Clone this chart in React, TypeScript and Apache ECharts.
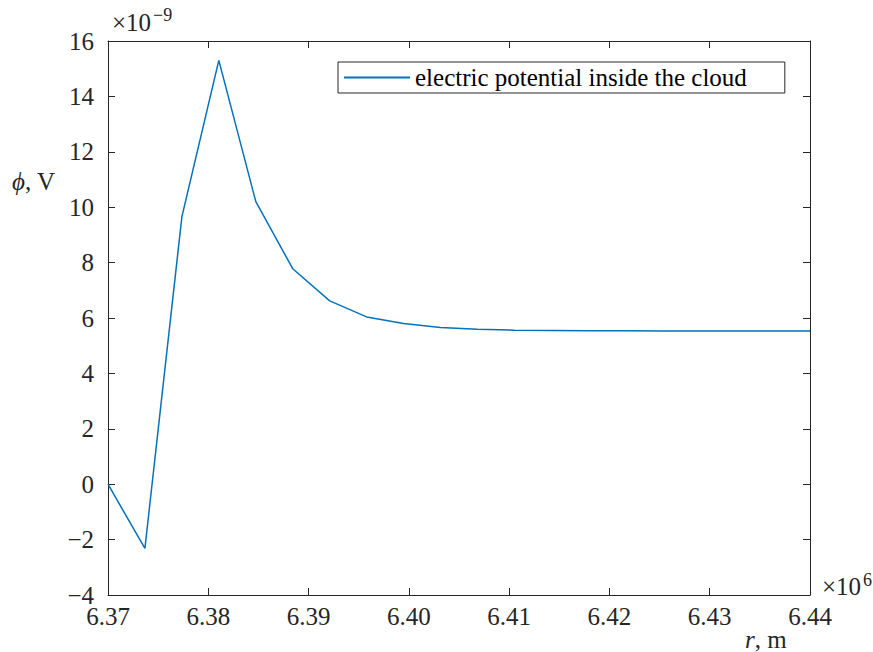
import React, { useEffect, useRef } from "react";
import * as echarts from "echarts";

// radius r in units of 1e6 m
const radius: number[] = [
  6.37, 6.37368, 6.37737, 6.38105, 6.38474, 6.38842, 6.39211, 6.39579,
  6.39947, 6.40316, 6.40684, 6.41053, 6.41421, 6.41789, 6.42158, 6.42526,
  6.42895, 6.43263, 6.43632, 6.44,
];
// electric potential in units of 1e-9 V
const potential: number[] = [
  0, -2.32, 9.66, 15.3, 10.2, 7.78, 6.62, 6.04, 5.8, 5.66, 5.59, 5.56, 5.55,
  5.54, 5.54, 5.53, 5.53, 5.53, 5.53, 5.53,
];
const xTicks: number[] = [6.37, 6.44, 0.01];
const yTicks: number[] = [-4, 16, 2];
const seriesName = "electric potential inside the cloud";

const FONT = "Liberation Serif";
const AX = "#262626";
const FS = 25;

const big = { fontFamily: FONT, fontSize: FS, color: AX, fill: AX };
const bigIt = { fontFamily: FONT, fontSize: FS, fontStyle: "italic", color: AX, fill: AX };
const small = { fontFamily: FONT, fontSize: 18, color: AX, fill: AX };

export default function App() {
  const ref = useRef<HTMLDivElement>(null);
  useEffect(() => {
    if (!ref.current) return;
    const chart = echarts.init(ref.current, null, { renderer: "svg" });
    const data = radius.map((r, i) => [r, potential[i]]);
    const axisCommon = {
      axisLine: { show: true, onZero: false, lineStyle: { color: AX, width: 1 } },
      axisTick: { show: true, inside: true, length: 7, lineStyle: { color: AX, width: 1 } },
      splitLine: { show: false },
    };
    chart.setOption({
      animation: false,
      backgroundColor: "#ffffff",
      textStyle: { fontFamily: FONT },
      grid: { left: 108, top: 41, width: 702, height: 554, containLabel: false },
      xAxis: [
        {
          type: "value",
          position: "bottom",
          min: xTicks[0],
          max: xTicks[1],
          interval: xTicks[2],
          ...axisCommon,
          axisLabel: {
            formatter: (v: number) => "{t|" + v.toFixed(2) + "}",
            fontFamily: FONT,
            fontSize: FS,
            color: AX,
            margin: 9,
            rich: { t: big },
          },
        },
        {
          type: "value",
          position: "top",
          min: xTicks[0],
          max: xTicks[1],
          interval: xTicks[2],
          ...axisCommon,
          axisLabel: { show: false },
        },
      ],
      yAxis: [
        {
          type: "value",
          position: "left",
          min: yTicks[0],
          max: yTicks[1],
          interval: yTicks[2],
          ...axisCommon,
          axisLabel: {
            fontFamily: FONT,
            fontSize: FS,
            color: AX,
            margin: 14,
            rich: { t: big },
            formatter: (v: number) => "{t|" + (v < 0 ? "\u2212" + Math.abs(v) : String(v)) + "}",
          },
        },
        {
          type: "value",
          position: "right",
          min: yTicks[0],
          max: yTicks[1],
          interval: yTicks[2],
          ...axisCommon,
          axisLabel: { show: false },
        },
      ],
      legend: {
        show: true,
        left: 338,
        top: 62,
        orient: "horizontal",
        backgroundColor: "#ffffff",
        borderColor: AX,
        borderWidth: 1,
        borderRadius: 0,
        padding: [3, 38, 3, 6],
        itemWidth: 66,
        itemHeight: 2,
        formatter: (n: string) => "{t|" + n + "}",
        textStyle: {
          fontFamily: FONT,
          fontSize: FS,
          color: "#000",
          lineHeight: 25,
          rich: { t: { fontFamily: FONT, fontSize: FS, color: "#000", lineHeight: 25 } },
        },
        data: [{ name: seriesName, icon: "rect" }],
      },
      series: [
        {
          name: seriesName,
          type: "line",
          data,
          xAxisIndex: 0,
          yAxisIndex: 0,
          symbol: "none",
          showSymbol: false,
          lineStyle: { color: "#0072BD", width: 1.5 },
          itemStyle: { color: "#0072BD" },
        },
      ],
      graphic: [
        {
          type: "text",
          left: 112,
          top: 10,
          style: { text: "{t|\u00d710}", rich: { t: big } },
        },
        {
          type: "text",
          left: 153,
          top: 6,
          style: { text: "{t|\u22129}", rich: { t: small } },
        },
        {
          type: "text",
          left: 822,
          top: 574,
          style: { text: "{t|\u00d710}", rich: { t: big } },
        },
        {
          type: "text",
          left: 863,
          top: 571,
          style: { text: "{t|6}", rich: { t: small } },
        },
        {
          type: "text",
          left: 12,
          top: 169,
          style: { text: "{i|\u03d5}{t|, V}", rich: { i: bigIt, t: big } },
        },
        {
          type: "text",
          left: 745,
          top: 627,
          style: { text: "{i|r}{t|, m}", rich: { i: bigIt, t: big } },
        },
      ],
    });
    return () => chart.dispose();
  }, []);
  return (
    <div
      ref={ref}
      style={{ position: "fixed", left: 0, top: 0, width: 873, height: 652, background: "#fff" }}
    />
  );
}
